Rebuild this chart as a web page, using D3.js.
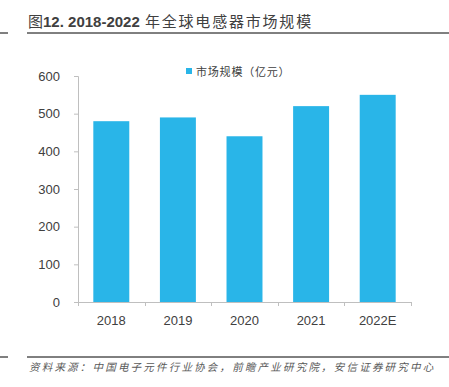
<html>
<head>
<meta charset="utf-8">
<script src="https://cdnjs.cloudflare.com/ajax/libs/d3/7.8.5/d3.min.js"></script>
<style>
  body { margin: 0; background: #fff; }
  text { font-family: Arial, "Liberation Sans", "Noto Sans CJK SC", sans-serif; }
</style>
</head>
<body>
<script>
    var years = ['2018', '2019', '2020', '2021', '2022E'];
    var marketSize = [480, 490, 440, 520, 550];
    var yTicks = [0, 100, 200, 300, 400, 500, 600];
    var seriesName = '市场规模（亿元）';

    var width = 449, height = 387;

    var svg = d3.select('body').append('svg')
        .attr('width', width)
        .attr('height', height);

    // title
    var title = svg.append('text')
        .attr('x', 28).attr('y', 27)
        .attr('font-size', 15)
        .attr('fill', '#404040');
    title.append('tspan').text('图').attr('font-family', '"Noto Sans CJK SC"');
    title.append('tspan').text('12. 2018-2022').attr('font-weight', 'bold');
    title.append('tspan').text(' 年全球电感器市场规模').attr('font-family', '"Noto Sans CJK SC"')
        .attr('letter-spacing', 1.8);

    svg.append('line').attr('x1', 27).attr('x2', width).attr('y1', 33).attr('y2', 33)
        .attr('stroke', '#000').attr('stroke-width', 1);
    svg.append('line').attr('x1', 0).attr('x2', 8).attr('y1', 33).attr('y2', 33)
        .attr('stroke', '#000').attr('stroke-width', 1);

    var x = d3.scaleBand().domain(years).range([78, 411]).paddingInner(0.46).paddingOuter(0.23);
    var y = d3.scaleLinear().domain([0, 600]).range([302, 76]);

    var g = svg.append('g');

    g.selectAll('rect')
        .data(marketSize)
        .enter()
        .append('rect')
        .attr('x', function (d, i) { return x(years[i]); })
        .attr('y', function (d) { return y(d); })
        .attr('width', x.bandwidth())
        .attr('height', function (d) { return y(0) - y(d); })
        .attr('fill', '#29B5E8');

    // y axis
    var yAxis = svg.append('g')
        .attr('transform', 'translate(78,0)')
        .call(d3.axisLeft(y).tickValues(yTicks).tickSize(4).tickPadding(14));
    yAxis.select('.domain').attr('stroke', '#bfbfbf');
    yAxis.selectAll('.tick line').attr('stroke', '#bfbfbf');
    yAxis.selectAll('.tick text').attr('font-size', 13).attr('fill', '#404040')
        .attr('font-family', 'Arial, "Liberation Sans", sans-serif');

    // x axis with ticks at band boundaries
    var bounds = d3.range(years.length + 1).map(function (i) { return 78 + i * (333 / years.length); });
    var xAxisG = svg.append('g');
    xAxisG.append('line').attr('x1', 78).attr('x2', 411).attr('y1', 302.5).attr('y2', 302.5)
        .attr('stroke', '#bfbfbf');
    xAxisG.selectAll('.bt').data(bounds).enter().append('line')
        .attr('x1', function (d) { return Math.round(d) + 0.5; })
        .attr('x2', function (d) { return Math.round(d) + 0.5; })
        .attr('y1', 302).attr('y2', 306)
        .attr('stroke', '#bfbfbf');
    xAxisG.selectAll('text').data(years).enter().append('text')
        .attr('x', function (d) { return x(d) + x.bandwidth() / 2; })
        .attr('y', 325)
        .attr('text-anchor', 'middle')
        .attr('font-size', 13)
        .attr('fill', '#404040')
        .text(function (d) { return d; });

    // legend
    svg.append('rect').attr('x', 186).attr('y', 68).attr('width', 6).attr('height', 6).attr('fill', '#29B5E8');
    svg.append('text').attr('x', 196).attr('y', 75.5)
        .attr('font-size', 11).attr('fill', '#404040')
        .attr('letter-spacing', 0.8)
        .attr('font-family', '"Noto Sans CJK SC"')
        .text(seriesName);

    // source
    svg.append('line').attr('x1', 27).attr('x2', width).attr('y1', 357).attr('y2', 357)
        .attr('stroke', '#000');
    svg.append('line').attr('x1', 0).attr('x2', 8).attr('y1', 357).attr('y2', 357)
        .attr('stroke', '#000');
    svg.append('text').attr('x', 29).attr('y', 371)
        .attr('font-size', 10.5).attr('fill', '#595959')
        .attr('font-style', 'italic')
        .attr('letter-spacing', 2.2)
        .attr('font-family', '"Noto Sans CJK SC"')
        .text('资料来源：中国电子元件行业协会，前瞻产业研究院，安信证券研究中心');
</script>
</body>
</html>
